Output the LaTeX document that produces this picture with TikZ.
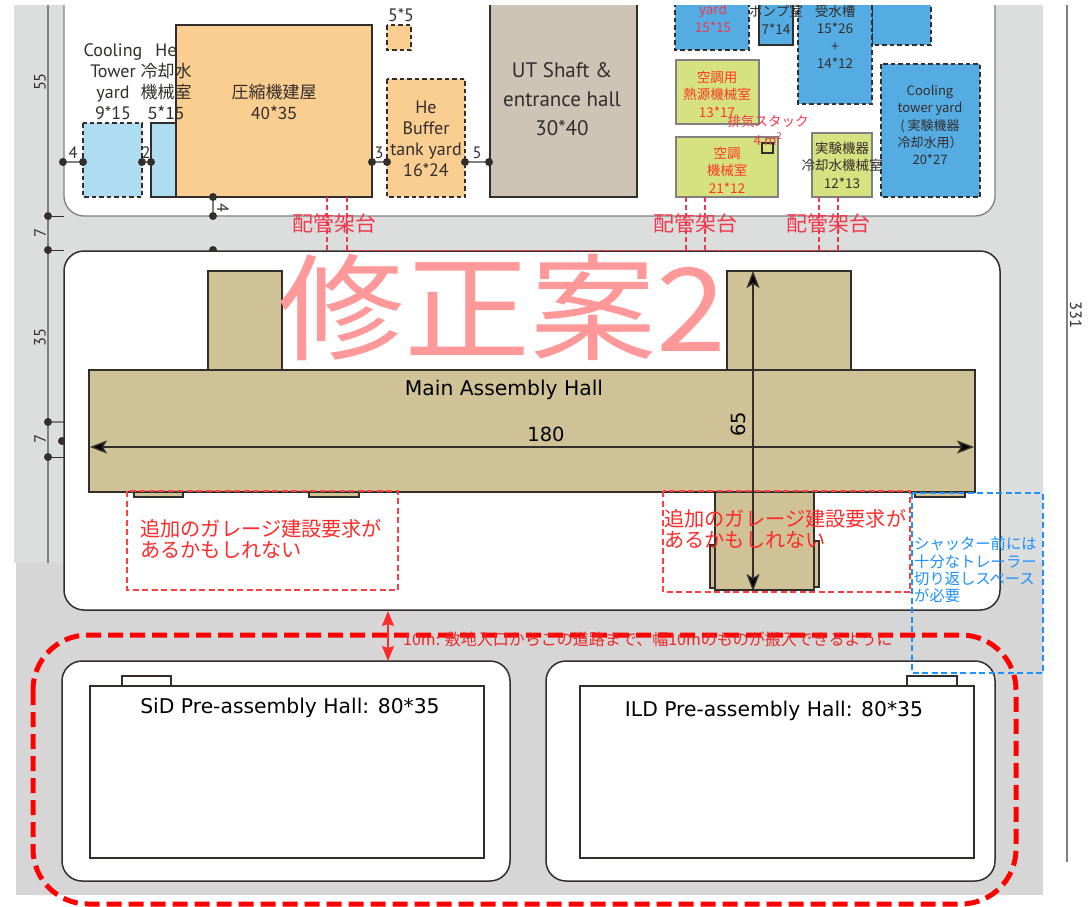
\documentclass[tikz,border=0pt]{standalone}
\usepackage{fontspec}
\setmainfont{PT Sans}
\newfontfamily\cjk{Noto Sans CJK JP}
\newfontfamily\hallfont{DejaVu Sans}
\usetikzlibrary{arrows.meta}
\definecolor{roadtop}{HTML}{DCDDDD}
\definecolor{roadlow}{HTML}{D6D6D6}
\definecolor{inkdark}{HTML}{332E2C}
\definecolor{hallfill}{HTML}{CFC296}
\definecolor{shaftfill}{HTML}{CDC4B5}
\definecolor{orangefill}{HTML}{FACD91}
\definecolor{skyfill}{HTML}{AEDCF0}
\definecolor{bluefill}{HTML}{55ACE3}
\definecolor{limefill}{HTML}{D6E17F}
\definecolor{notered}{HTML}{FF2A2A}
\definecolor{pipered}{HTML}{F0394E}
\definecolor{noteblue}{HTML}{1E90FF}
\tikzset{
  solidbox/.style={draw=inkdark, line width=1.5pt},
  dashbox/.style={draw=inkdark, line width=1.8pt, dash pattern=on 4.5pt off 3pt},
  limebox/.style={draw=black!50, line width=1.2pt},
  dimline/.style={draw=black!50, line width=1.3pt},
  dimtick/.style={draw=inkdark, line width=1pt},
  dimdot/.style={circle, fill=inkdark, inner sep=0pt, minimum size=8pt},
  dimtext/.style={text=inkdark, font=\fontsize{16.5}{18}\selectfont, inner sep=0pt},
  bldgtext/.style={text=inkdark, align=center, inner sep=0pt, font=\fontsize{18}{21}\selectfont},
  jptext/.style={text=inkdark, align=center, inner sep=0pt, font=\cjk\fontsize{13.5}{17.5}\selectfont},
  redtext/.style={text=notered!85!orange, align=center, inner sep=0pt, font=\cjk\fontsize{13.5}{17.5}\selectfont},
  pipetext/.style={text=pipered, inner sep=0pt, font=\cjk\fontsize{21}{22}\selectfont},
  garagetext/.style={text=notered, align=left, inner sep=0pt, anchor=west, font=\cjk\fontsize{20.2}{20.5}\selectfont},
  pipeline/.style={draw=pipered, line width=1.4pt, dash pattern=on 5pt off 3pt},
  halltext/.style={text=black, inner sep=0pt, font=\hallfont\fontsize{20.3}{22}\selectfont},
  hallnum/.style={text=black, inner sep=0pt, font=\hallfont\fontsize{19.5}{22}\selectfont},
  hallarrow/.style={{Stealth[length=17pt,width=13pt,inset=4pt,fill=black]}-{Stealth[length=17pt,width=13pt,inset=4pt,fill=black]}, line width=1.4pt, draw=inkdark},
  notebox/.style={line width=1.5pt, dash pattern=on 6pt off 3.5pt},
}
\newcommand{\bldg}[6]{\draw[#1, fill=#2] ( #3 , #4 ) rectangle ( #5 , #6 );}
\newcommand{\dimpair}[6]{\node[dimdot] (#1) at ( #2 , #3 ) {}; \node[dimdot] (#4) at ( #5 , #6 ) {}; \draw[dimline] (#1) -- (#4);}
\begin{document}
\begin{tikzpicture}[x=1pt, y=-1pt]
    \useasboundingbox (0,0) rectangle (1088,906);
    % road
    \fill[roadtop] (14,5) rectangle (1043,563);
    \fill[roadlow] (16,563) rectangle (1043,895);
    % dimension lines
    \draw[dimline] (48,5) -- (48,563);
    \draw[dimline] (1067,5) -- (1067,862);
    % site plots
    \begin{scope}
        \clip (0,5) rectangle (1088,906);
        \draw[black!50, line width=1.3pt, fill=white, rounded corners=20pt] (64,-30) rectangle (995,216);
        % top row
        \bldg{dashbox}{skyfill}{83}{123}{142}{197}
        \bldg{solidbox}{skyfill}{151}{123}{176}{197}
        \bldg{solidbox}{orangefill}{176}{25}{372}{197}
        \bldg{dashbox}{orangefill}{387}{25}{411}{50}
        \bldg{dashbox}{orangefill}{387}{79}{465}{197}
        \bldg{solidbox}{shaftfill}{490}{-5}{637}{197}
        \bldg{dashbox}{bluefill}{675}{-5}{749}{50}
        \bldg{solidbox}{bluefill}{759}{-5}{793}{45}
        \bldg{dashbox}{bluefill}{872}{-5}{931}{45}
        \bldg{dashbox}{bluefill}{798}{-5}{872}{104}
        \bldg{dashbox}{bluefill}{881}{64}{980}{197}
        \bldg{limebox}{limefill}{676}{60}{759}{124}
        \bldg{limebox}{limefill}{676}{137}{778}{197}
        \bldg{limebox}{limefill}{812}{133}{872}{197}
        \draw[draw=inkdark, line width=1.2pt] (762,143) rectangle (773,153);
        % top labels
        \node[bldgtext] (coolyard) at (113,82) {Cooling\\Tower\\yard\\9*15};
        \node[jptext, font=\cjk\fontsize{17}{21}\selectfont] (heroom) at (166,82) {He\\冷却水\\機械室\\5*15};
        \node[jptext, font=\cjk\fontsize{17}{21}\selectfont] (compressor) at (274,102) {圧縮機建屋\\40*35};
        \node[bldgtext] (smallbox) at (401,15) {5*5};
        \node[bldgtext] (buffer) at (426,139) {He\\Buffer\\tank yard\\16*24};
        \node[bldgtext, font=\fontsize{21}{29}\selectfont] (shaft) at (562,99) {UT Shaft \&\\entrance hall\\30*40};
        \node[redtext, text=pipered, font=\cjk\fontsize{13.5}{18}\selectfont] (yardtop) at (713,18) {yard\\15*15};
        \node[jptext] (pump) at (776,20) {ポンプ室\\7*14};
        \node[jptext] (tank) at (835,37) {受水槽\\15*26\\+\\14*12};
        \node[jptext, font=\cjk\fontsize{13}{17.3}\selectfont] (towerright) at (930,125) {Cooling\\tower yard\\( 実験機器\\冷却水用）\\20*27};
        \node[redtext] (heatsource) at (717,94) {空調用\\熱源機械室\\13*17};
        \node[redtext, text=pipered, font=\cjk\fontsize{13.5}{19}\selectfont] (stack) at (768,130) {排気スタック\\4 m\textsuperscript{2}};
        \node[redtext] (aircon) at (727,170) {空調\\機械室\\21*12};
        \node[jptext] (testroom) at (842,165) {実験機器\\冷却水機械室\\12*13};
    \end{scope}
    % dimension dots
    \dimpair{ta}{63}{162}{tb}{83}{162}
    \dimpair{tc}{142}{162}{td}{151}{162}
    \dimpair{te}{372}{162}{tf}{387}{162}
    \dimpair{tg}{465}{162}{th}{489}{162}
    \dimpair{ua}{213}{197}{ub}{213}{216}
    \node[dimdot] (uc) at (213,250) {};
    \node[dimdot] (hb) at (62,441) {};
    \dimpair{la}{48}{216}{lb}{48}{250}
    \dimpair{lc}{48}{422}{ld}{48}{457}
    \draw[dimtick] (la) -- (64,216);
    \draw[dimtick] (lb) -- (64,250);
    \draw[dimline] (lc) -- (64,422);
    \draw[dimtick] (ld) -- (64,457);
    \node[dimtext] (dfour) at (73,153) {4};
    \node[dimtext] (dtwo) at (146,153) {2};
    \node[dimtext] (dthree) at (379,153) {3};
    \node[dimtext] (dfive) at (477,153) {5};
    \node[dimtext, rotate=-90] (dbelow) at (223,208) {4};
    \node[dimtext, rotate=90] (dseven) at (40,233) {7};
    \node[dimtext, rotate=90] (dsevenb) at (40,439) {7};
    \node[dimtext, rotate=90] (dfiftyfive) at (40,82) {55};
    \node[dimtext, rotate=90] (dthirtyfive) at (40,337) {35};
    \node[dimtext, rotate=-90] (dtotal) at (1076,315) {331};
    % main plot
    \draw[draw=inkdark, line width=1.5pt, fill=white, rounded corners=20pt] (64,251) rectangle (1000,610);
    \draw[draw=inkdark, line width=1.5pt, fill=white, rounded corners=20pt] (62,661) rectangle (510,881);
    \draw[draw=inkdark, line width=1.5pt, fill=white, rounded corners=20pt] (546,661) rectangle (995,881);
    % main assembly hall
    \bldg{solidbox}{hallfill}{208}{271}{282}{370}
    \bldg{solidbox}{hallfill}{727}{271}{851}{370}
    \bldg{solidbox}{hallfill}{134}{492}{183}{497}
    \bldg{solidbox}{hallfill}{309}{492}{359}{497}
    \bldg{solidbox}{hallfill}{915}{492}{965}{497}
    \bldg{solidbox}{hallfill}{710}{545}{715}{588}
    \bldg{solidbox}{hallfill}{814}{541}{819}{587}
    \bldg{solidbox}{hallfill}{715}{492}{814}{590}
    \bldg{solidbox}{hallfill}{89}{370}{975}{492}
    % pre-assembly halls
    \bldg{solidbox}{white}{122}{676}{171}{686}
    \bldg{solidbox}{white}{907}{676}{957}{686}
    \bldg{solidbox}{white}{90}{686}{484}{858}
    \bldg{solidbox}{white}{580}{686}{974}{858}
    % watermark
    \node[text=red!40, inner sep=0pt, font=\cjk\fontsize{126}{126}\selectfont] (mark) at (502,307) {\scalebox{1}[.92]{修正案2}};
    % hall labels
    \node[halltext] (mainhall) at (504,390) {Main Assembly Hall};
    \node[halltext] (sidhall) at (290,708) {SiD Pre-assembly Hall: 80*35};
    \node[halltext] (ildhall) at (774,711) {ILD Pre-assembly Hall: 80*35};
    \node[hallnum] (width) at (546,434) {180};
    \node[hallnum, rotate=90] (depth) at (738,424) {65};
    % hall arrows
    \coordinate (wa) at (90,447);
    \coordinate (wb) at (974,447);
    \coordinate (da) at (753,271);
    \coordinate (db) at (753,591);
    \draw[hallarrow] (wa) -- (wb);
    \draw[hallarrow] (da) -- (db);
    % piping
    \draw[pipeline] (327,197) -- (327,250);
    \draw[pipeline] (347,197) -- (347,250);
    \draw[pipeline] (686,197) -- (686,250);
    \draw[pipeline] (705,197) -- (705,250);
    \draw[pipeline] (819,197) -- (819,250);
    \draw[pipeline] (838,197) -- (838,250);
    \draw[pipeline, line width=.8pt] (347,250) -- (838,250);
    \node[pipetext] (pipea) at (334,223) {配管架台};
    \node[pipetext] (pipeb) at (695,223) {配管架台};
    \node[pipetext] (pipec) at (828,223) {配管架台};
    % garage requests
    \draw[notebox, draw=notered!90] (127,491) rectangle (398,590);
    \draw[notebox, draw=notered!90] (663,491) rectangle (910,592);
    \node[garagetext] (garagea) at (140,539) {追加のガレージ建設要求が\\あるかもしれない};
    \node[garagetext] (garageb) at (664,529) {追加のガレージ建設要求が\\あるかもしれない};
    % trailer space
    \draw[notebox, draw=noteblue] (912,493) rectangle (1043,673);
    \node[text=noteblue, align=left, inner sep=0pt, anchor=west, font=\cjk\fontsize{15.3}{17.3}\selectfont] (trailer) at (914,570) {シャッター前には\\十分なトレーラー\\切り返しスペース\\が必要};
    % delivery route
    \draw[draw=red, line width=5pt, dash pattern=on 15pt off 7pt, rounded corners=55pt] (33,635) rectangle (1016,904);
    \coordinate (ra) at (388,611);
    \coordinate (rb) at (388,661);
    \draw[{Stealth[length=15pt,width=12pt,inset=2pt]}-{Stealth[length=15pt,width=12pt,inset=2pt]}, line width=1.4pt, draw=notered] (ra) -- (rb);
    \node[text=notered!92!black, inner sep=0pt, anchor=west, font=\cjk\fontsize{16}{18}\selectfont] (route) at (403,639) {10m: 敷地入口からこの道路まで、幅10mのものが搬入できるように};
\end{tikzpicture}
\end{document}
